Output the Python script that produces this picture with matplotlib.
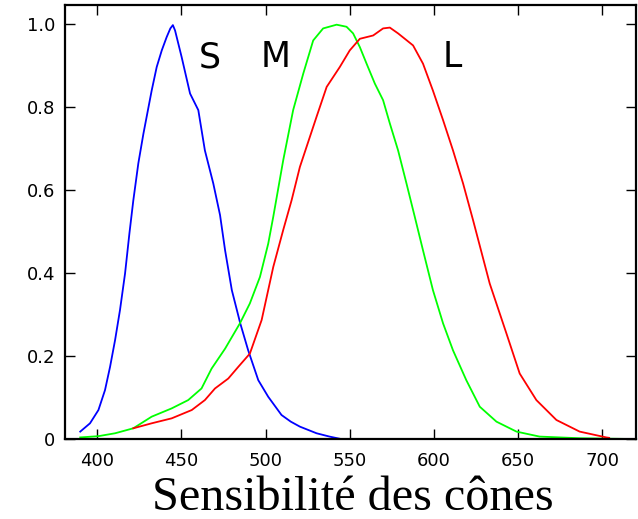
import matplotlib
matplotlib.use("Agg")
import matplotlib.pyplot as plt
from matplotlib.ticker import FuncFormatter

# cone sensitivities (wavelength nm, relative response)
s_nm = [390, 395.8, 400.8, 404.7, 407.7, 410.7, 413.6, 416.6, 419.2, 421.5, 424.5, 427.5,
        432.4, 435.4, 438.4, 441.3, 443.5, 445, 446.3, 450.2, 455.2, 460.1, 464, 469, 473,
        476, 480, 485, 489.7, 495.7, 501.6, 509.5, 515, 520.4, 530.3, 538, 545, 560,
        600, 650, 700, 720]
s_val = [0.018, 0.038, 0.07, 0.118, 0.174, 0.239, 0.311, 0.399, 0.496, 0.575, 0.665, 0.736,
         0.84, 0.897, 0.937, 0.969, 0.99, 0.998, 0.985, 0.921, 0.833, 0.793, 0.696, 0.616,
         0.54, 0.455, 0.359, 0.279, 0.214, 0.142, 0.102, 0.058, 0.042, 0.030, 0.014,
         0.006, 0.0, 0.0, 0.0, 0.0, 0.0, 0.0]

m_nm = [390, 400.8, 410.7, 421.5, 432.4, 444.3, 454.1, 462, 468, 476, 484.8, 490.7,
        496.7, 501.6, 504.6, 510.5, 516.4, 522.4, 528.3, 534.2, 542.2, 548.1, 552, 556,
        560, 564.9, 569.8, 573.8, 578.7, 583.7, 588.6, 593.5, 599.4, 605.4, 611.3,
        619.2, 627.2, 637.1, 649, 662.7, 686.5, 720]
m_val = [0.004, 0.007, 0.014, 0.026, 0.054, 0.074, 0.094, 0.122, 0.17, 0.218, 0.279, 0.327,
         0.391, 0.471, 0.536, 0.672, 0.793, 0.881, 0.961, 0.99, 0.999, 0.994, 0.978, 0.945,
         0.905, 0.857, 0.817, 0.761, 0.696, 0.616, 0.536, 0.455, 0.359, 0.279, 0.214,
         0.142, 0.078, 0.042, 0.018, 0.006, 0.002, 0.0]

l_nm = [421.5, 432.4, 444.3, 456.2, 464, 470, 477.9, 483.8, 490.7, 497.7, 504.6, 510.5,
        515.5, 520.4, 530.3, 536.3, 544.1, 550, 556, 563.9, 569.8, 573.8, 578.7, 582.7,
        587.6, 593.5, 599.4, 605.4, 611.3, 617.3, 623.2, 633.1, 643, 650.9, 660.8,
        672.7, 686.5, 702.3, 704]
l_val = [0.026, 0.038, 0.05, 0.07, 0.094, 0.122, 0.146, 0.174, 0.206, 0.287, 0.415, 0.504,
         0.576, 0.656, 0.777, 0.849, 0.897, 0.937, 0.965, 0.973, 0.99, 0.992, 0.978, 0.965,
         0.949, 0.905, 0.84, 0.769, 0.696, 0.616, 0.528, 0.375, 0.255, 0.158, 0.094,
         0.046, 0.018, 0.004, 0.003]

x_ticks = [400, 450, 500, 550, 600, 650, 700]
y_ticks = [0, 0.2, 0.4, 0.6, 0.8, 1.0]

fig = plt.figure(figsize=(6.38, 5.19), dpi=100)
ax = fig.add_axes([0.102, 0.154, 0.895, 0.836])

ax.plot(s_nm, s_val, color="#0000ff", lw=1.3)
ax.plot(m_nm, m_val, color="#00ff00", lw=1.3)
ax.plot(l_nm, l_val, color="#ff0000", lw=1.3)

ax.text(467, 0.92, "S", fontsize=25, ha="center", va="center")
ax.text(506, 0.92, "M", fontsize=25, ha="center", va="center")
ax.text(611, 0.92, "L", fontsize=25, ha="center", va="center")

ax.set_xlim(381, 720)
ax.set_ylim(0, 1.046)
ax.set_xticks(x_ticks)
ax.set_yticks(y_ticks)
ax.yaxis.set_major_formatter(FuncFormatter(lambda v, p: "0" if v == 0 else f"{v:.1f}"))
ax.tick_params(direction="in", length=7, width=1, top=True, right=True,
               labelsize=13, colors="black")
ax.tick_params(axis="x", pad=9)
ax.tick_params(axis="y", pad=7)
for sp in ax.spines.values():
    sp.set_linewidth(1.6)

fig.text(0.553, 0.018, "Sensibilité des cônes", family="Liberation Serif",
         fontsize=34.7, ha="center", va="baseline")

fig.savefig("out.png", dpi=100)
